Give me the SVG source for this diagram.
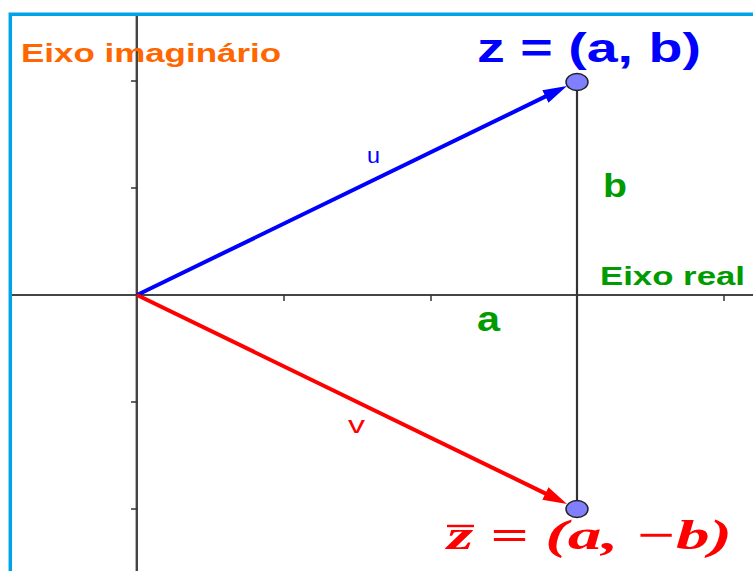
<svg xmlns="http://www.w3.org/2000/svg" width="753" height="571" viewBox="0 0 753 571">
  <defs>
    <style>
      .lbl { font-family: "Liberation Sans", Arial, sans-serif; }
      .b { font-weight: bold; }
      .green { fill: #009b00; }
      .axis { stroke: #444; fill: none; }
      .tick { stroke: #333; stroke-width: 1.5; }
      .pt { fill: #7f7fff; stroke: #222; stroke-width: 1.5; }
    </style>
    <marker id="arrBlue" markerUnits="userSpaceOnUse" markerWidth="26" markerHeight="16" viewBox="0 -8 26 16" refX="2" refY="0" orient="auto">
      <path d="M0,-7 L24,0 L0,7 Z" fill="#0000ff"/>
    </marker>
    <marker id="arrRed" markerUnits="userSpaceOnUse" markerWidth="26" markerHeight="16" viewBox="0 -8 26 16" refX="2" refY="0" orient="auto">
      <path d="M0,-7 L24,0 L0,7 Z" fill="#ff0000"/>
    </marker>
  </defs>
  <rect width="753" height="571" fill="#ffffff"/>
  <!-- frame -->
  <path d="M10.3,571 L10.3,14.3 L753,14.3" fill="none" stroke="#00a2e8" stroke-width="3.5"/>

  <g id="axes">
    <line class="axis" x1="12" y1="295" x2="753" y2="295" stroke-width="1.8" stroke="#555"/>
    <line class="axis" x1="136.8" y1="16" x2="136.8" y2="571" stroke-width="2.4" stroke="#222"/>
    <line class="tick" x1="284" y1="295" x2="284" y2="301"/>
    <line class="tick" x1="431" y1="295" x2="431" y2="301"/>
    <line class="tick" x1="577" y1="295" x2="577" y2="301"/>
    <line class="tick" x1="724" y1="295" x2="724" y2="301"/>
    <line class="tick" x1="131" y1="81" x2="137" y2="81"/>
    <line class="tick" x1="131" y1="188" x2="137" y2="188"/>
    <line class="tick" x1="131" y1="402" x2="137" y2="402"/>
    <line class="tick" x1="131" y1="509" x2="137" y2="509"/>
  </g>

  <g id="labels">
    <text class="lbl b" x="21" y="62" font-size="26" fill="#ff6600" textLength="260" lengthAdjust="spacingAndGlyphs">Eixo imaginário</text>
    <text class="lbl b green" x="600" y="285" font-size="26" textLength="145" lengthAdjust="spacingAndGlyphs">Eixo real</text>
    <text class="lbl b green" x="603" y="197" font-size="33" textLength="24" lengthAdjust="spacingAndGlyphs">b</text>
    <text class="lbl b green" x="477" y="331" font-size="35" textLength="23" lengthAdjust="spacingAndGlyphs">a</text>
  </g>

  <g id="connectors">
    <line x1="577" y1="82" x2="577" y2="509" stroke="#333" stroke-width="2.2"/>
    <line id="u" x1="137" y1="295" x2="547.2" y2="95.6" stroke="#0000ff" stroke-width="4" marker-end="url(#arrBlue)"/>
    <line id="v" x1="137" y1="295" x2="547.2" y2="494.4" stroke="#ff0000" stroke-width="4" marker-end="url(#arrRed)"/>
    <text class="lbl" x="367" y="163" font-size="22" fill="#0000ff" textLength="13" lengthAdjust="spacingAndGlyphs">u</text>
    <text class="lbl" x="348" y="433" font-size="24" fill="#ff0000" textLength="17" lengthAdjust="spacingAndGlyphs">v</text>
  </g>

  <g id="z">
    <ellipse class="pt" cx="577" cy="82" rx="11" ry="8.5"/>
    <text class="lbl b" x="477" y="62" font-size="40" fill="#0000ff" textLength="224" lengthAdjust="spacingAndGlyphs">z = (a, b)</text>
  </g>

  <g id="zbar">
    <ellipse class="pt" cx="577" cy="509" rx="11" ry="8.5"/>
    <line x1="447" y1="526" x2="474" y2="526" stroke="#ff0000" stroke-width="2.4"/>
    <text x="447" y="549" font-family="'Liberation Serif', 'Times New Roman', serif" font-weight="bold" font-style="italic" font-size="42" fill="#ff0000" textLength="285" lengthAdjust="spacingAndGlyphs">z = (a, −b)</text>
  </g>
</svg>
